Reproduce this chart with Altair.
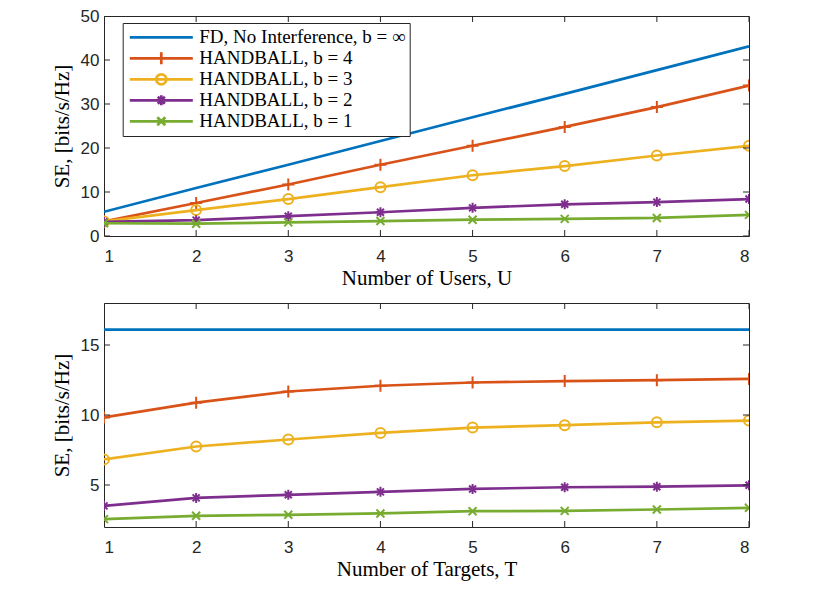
import altair as alt
import pandas as pd

# ---------------- data ----------------
x_vals = [1, 2, 3, 4, 5, 6, 7, 8]
series_names = [
    "FD, No Interference, b = ∞",
    "HANDBALL, b = 4",
    "HANDBALL, b = 3",
    "HANDBALL, b = 2",
    "HANDBALL, b = 1",
]
colors = ["#0072BD", "#D95319", "#EDB120", "#7E2F8E", "#77AC30"]

# top panel: SE vs number of users U
users_fd = [5.5, 10.9, 16.2, 21.6, 27.0, 32.3, 37.7, 43.1]
users_b4 = [3.3, 7.5, 11.7, 16.2, 20.5, 24.8, 29.3, 34.2]
users_b3 = [3.3, 5.9, 8.4, 11.1, 13.8, 15.9, 18.3, 20.5]
users_b2 = [3.2, 3.6, 4.5, 5.4, 6.4, 7.2, 7.7, 8.4]
users_b1 = [2.9, 2.8, 3.1, 3.4, 3.7, 3.9, 4.1, 4.8]

# bottom panel: SE vs number of targets T
targets_fd = [16.1, 16.1, 16.1, 16.1, 16.1, 16.1, 16.1, 16.1]
targets_b4 = [9.83, 10.88, 11.68, 12.09, 12.32, 12.42, 12.49, 12.58]
targets_b3 = [6.83, 7.75, 8.25, 8.72, 9.10, 9.27, 9.48, 9.60]
targets_b2 = [3.51, 4.08, 4.30, 4.51, 4.72, 4.84, 4.88, 4.98]
targets_b1 = [2.56, 2.80, 2.87, 2.97, 3.13, 3.15, 3.25, 3.37]

top_y_ticks = [0, 10, 20, 30, 40, 50]
bot_y_ticks = [5, 10, 15]

# marker glyphs (unit square paths) for the data points; FD has none
point_paths = [
    None,
    "M-1.2,0H1.2M0,-1.2V1.2",
    "M1,0A1,1,0,1,1,-1,0A1,1,0,1,1,1,0Z",
    "M-1,0H1M0,-1V1M-0.7,-0.7L0.7,0.7M-0.7,0.7L0.7,-0.7",
    "M-0.8,-0.8L0.8,0.8M-0.8,0.8L0.8,-0.8",
]
# legend glyphs: line segment with the marker on top
legend_paths = [
    "M-1,0H1",
    "M-1,0H1M0,-0.19V0.19",
    "M-1,0H1M0.159,0A0.159,0.159,0,1,1,-0.159,0A0.159,0.159,0,1,1,0.159,0",
    "M-1,0H1M0,-0.159V0.159M-0.112,-0.112L0.112,0.112M-0.112,0.112L0.112,-0.112",
    "M-1,0H1M-0.127,-0.127L0.127,0.127M-0.127,0.127L0.127,-0.127",
]


def long_df(xs, cols):
    rows = []
    for name, ys in zip(series_names, cols):
        for x, y in zip(xs, ys):
            rows.append({"x": x, "se": y, "series": name})
    return pd.DataFrame(rows)


df_top = long_df(x_vals, [users_fd, users_b4, users_b3, users_b2, users_b1])
df_bot = long_df(x_vals, [targets_fd, targets_b4, targets_b3, targets_b2, targets_b1])

FRAME = "#262626"
SERIF = "Liberation Serif"
SANS = "Liberation Sans"


def panel(df, ydomain, yticks, xtitle, h, with_legend, legend_y=9):
    xs = alt.Scale(domain=[1, 8], nice=False, zero=False)
    ys = alt.Scale(domain=ydomain, nice=False, zero=False)
    x_axis = alt.Axis(values=x_vals, title=xtitle, labelPadding=12.5, titlePadding=2.8)
    y_axis = alt.Axis(values=yticks, title="SE, [bits/s/Hz]", labelPadding=5,
                      titlePadding=8, format="d")

    def ex(f="x:Q"):
        return alt.X(f, scale=xs, axis=x_axis)

    def ey(f="se:Q"):
        return alt.Y(f, scale=ys, axis=y_axis)

    base = alt.Chart(df)
    layers = []
    for name, col, path in zip(series_names, colors, point_paths):
        sub = base.transform_filter(alt.datum.series == name)
        layers.append(
            sub.mark_line(strokeWidth=2.7, clip=True, color=col).encode(x=ex(), y=ey())
        )
        if path:
            layers.append(
                sub.mark_point(shape=path, size=100, filled=False, strokeWidth=2,
                               opacity=1, color=col, clip=True)
                .encode(x=ex(), y=ey())
            )
    # inward ticks on all four sides
    xt = pd.DataFrame({"t": x_vals})
    yt = pd.DataFrame({"t": yticks})
    for yd in ydomain:
        layers.append(
            alt.Chart(xt).mark_tick(orient="vertical", size=12, thickness=1,
                                    color=FRAME, clip=True, opacity=1)
            .encode(x=ex("t:Q"), y=alt.YDatum(yd, scale=ys, axis=y_axis))
        )
    for xd in [1, 8]:
        layers.append(
            alt.Chart(yt).mark_tick(orient="horizontal", size=12, thickness=1,
                                    color=FRAME, clip=True, opacity=1)
            .encode(y=ey("t:Q"), x=alt.XDatum(xd, scale=xs, axis=x_axis))
        )
    if with_legend:
        leg = dict(
            orient="none", legendX=18.7, legendY=legend_y, title=None,
            fillColor="white", strokeColor=FRAME, padding=4,
            symbolSize=3969, symbolStrokeWidth=2.7, symbolOffset=1.6,
            clipHeight=20.6, rowPadding=0, labelFont=SERIF, labelFontSize=19,
            labelColor="black", labelOffset=5, labelLimit=0,
        )
        layers.append(
            base.transform_filter("false")
            .mark_point(filled=False, size=3969, strokeWidth=2.7, opacity=1)
            .encode(
                x=ex(), y=ey(),
                color=alt.Color("series:N",
                                scale=alt.Scale(domain=series_names, range=colors),
                                legend=alt.Legend(**leg)),
                shape=alt.Shape("series:N",
                                scale=alt.Scale(domain=series_names, range=legend_paths),
                                legend=alt.Legend(**leg)),
            )
        )
    return alt.layer(*layers).properties(width=645, height=h)


top = panel(df_top, [0, 50], top_y_ticks, "Number of Users, U", 220, True, legend_y=7)
bottom = panel(df_bot, [2, 18], bot_y_ticks, "Number of Targets, T", 224, False)

chart = (
    alt.vconcat(top, bottom, spacing=13)
    .properties(padding={"left": 42, "top": -2, "right": 5, "bottom": 5}, background="white")
    .configure_view(stroke=FRAME, strokeWidth=1)
    .configure_axis(
        labelFont=SANS, labelFontSize=17, labelColor=FRAME,
        titleFont=SERIF, titleFontSize=21, titleFontWeight="normal", titleColor="black",
        ticks=False, tickSize=0, domain=False, grid=False,
    )
)

chart.save("out.html", embed_options={"renderer": "svg", "actions": False})
